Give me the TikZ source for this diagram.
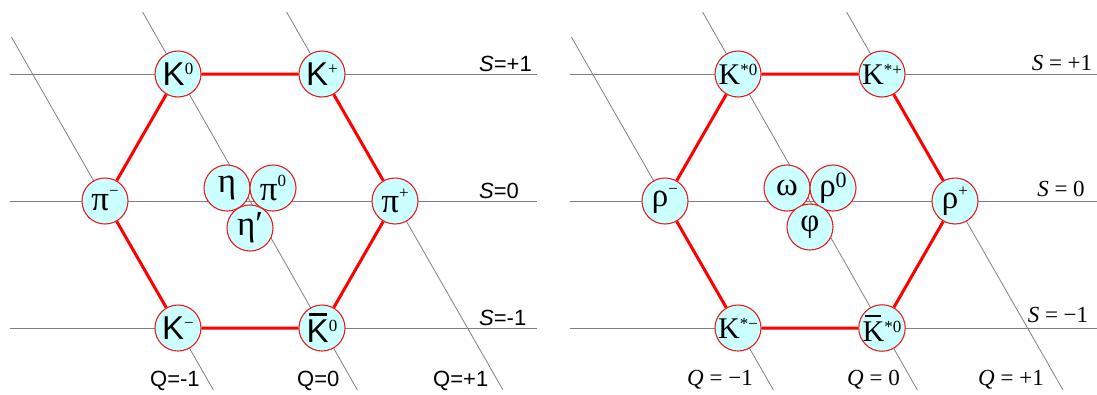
\documentclass[tikz,border=0pt]{standalone}
\usepackage{fontspec}
\newfontfamily\fsans{Liberation Sans}
\newfontfamily\fserif{Liberation Serif}
\definecolor{pcyan}{RGB}{204,255,255}
\definecolor{cred}{RGB}{232,30,30}
\definecolor{hred}{RGB}{255,0,0}
\definecolor{lgray}{RGB}{128,128,128}
\newcommand\lsup[2][0.34em]{\raisebox{#1}{\fontsize{17}{17}\selectfont\fserif #2}}
\newcommand\rsup[2][0.3em]{\raisebox{#1}{\fontsize{17}{17}\selectfont\fserif #2}}
\newcommand\barK[1][0.1em]{\leavevmode\rlap{\hspace{0.08em}\raisebox{0.8em}{\rule{0.52em}{#1}}}K}
\tikzset{
  meson/.style={circle, draw=cred, line width=1.1pt, fill=pcyan, minimum size=46pt, inner sep=0pt},
  lK/.style={meson, font=\fsans\fontsize{33}{33}\selectfont},
  lG/.style={meson, font=\fserif\fontsize{35}{35}\selectfont},
  rK/.style={meson, font=\fserif\fontsize{30}{30}\selectfont},
  rG/.style={meson, font=\fserif\fontsize{33}{33}\selectfont},
  grid/.style={draw=lgray, line width=0.8pt},
  hex/.style={draw=hred, line width=3pt},
  lbl/.style={inner sep=0pt, font=\fsans\fontsize{22}{24}\selectfont},
  rlbl/.style={inner sep=0pt, font=\fserif\fontsize{23}{25}\selectfont},
}
\begin{document}
\begin{tikzpicture}[x=1pt,y=-1pt]
\useasboundingbox (0,0) rectangle (1097,394);
% ---------- grids (both panels) ----------
\foreach \dx/\p in {0/l,560/r}{
  \begin{scope}[shift={(\dx,0)}]
    \draw[grid] (10,74) coordinate (\p a1) -- (537,74) coordinate (\p a2);
    \draw[grid] (10,201) coordinate (\p b1) -- (537,201) coordinate (\p b2);
    \draw[grid] (10,328) coordinate (\p c1) -- (537,328) coordinate (\p c2);
    \draw[grid] (11.4,37) coordinate (\p q1) -- (213.4,390) coordinate (\p q2);
    \draw[grid] (142.6,12) coordinate (\p r1) -- (357.4,390) coordinate (\p r2);
    \draw[grid] (286.6,12) coordinate (\p s1) -- (503,390) coordinate (\p s2);
  \end{scope}
}
% ---------- left panel ----------
\node[lK] (lK0) at (178,74) {K\lsup{0}};
\node[lK] (lKp) at (322,74) {K\lsup{+}};
\node[lG] (lpim) at (105,201) {π\lsup[0.4em]{−}};
\node[lG] (lpip) at (395,201) {π\lsup[0.4em]{+}};
\node[lK] (lKm) at (178,328) {K\lsup{−}};
\node[lK] (lKb) at (322,328) {\barK\lsup{0}};
\node[lG] (leta) at (227,188) {η};
\node[lG] (lpi0) at (273,188) {π\lsup[0.4em]{0}};
\node[lG] (letap) at (250,228) {η′};
\draw[hex] (lK0) -- (lKp) -- (lpip) -- (lKb) -- (lKm) -- (lpim) -- (lK0);
\node[lbl, anchor=base west] (lS1) at (479,71) {\textit{S}=+1};
\node[lbl, anchor=base west] (lS0) at (479,198) {\textit{S}=0};
\node[lbl, anchor=base west] (lSm) at (479,325) {\textit{S}=-1};
\node[lbl, anchor=base west] (lQm) at (150,386) {Q=-1};
\node[lbl, anchor=base west] (lQ0) at (297,386) {Q=0};
\node[lbl, anchor=base west] (lQp) at (433,386) {Q=+1};
% ---------- right panel ----------
\node[rK] (rK0) at (738,74) {K\rsup{*0}};
\node[rK] (rKp) at (882,74) {K\rsup{*+}};
\node[rG] (rrm) at (665,201) {ρ\rsup[0.36em]{−}};
\node[rG] (rrp) at (955,201) {ρ\rsup[0.36em]{+}};
\node[rK] (rKm) at (738,328) {K\rsup{*−}};
\node[rK] (rKb) at (882,328) {\barK[0.07em]\rsup{*0}};
\node[rG] (rom) at (787,188) {ω};
\node[rG] (rr0) at (833,188) {ρ\raisebox{0.28em}{\fontsize{22}{22}\selectfont 0}};
\node[rG] (rphi) at (810,227) {φ};
\draw[hex] (rK0) -- (rKp) -- (rrp) -- (rKb) -- (rKm) -- (rrm) -- (rK0);
\node[rlbl, anchor=base] (rS1) at (1062,70) {\textit{S} = +1};
\node[rlbl, anchor=base] (rS0) at (1061,196) {\textit{S} = 0};
\node[rlbl, anchor=base] (rSm) at (1058,322) {\textit{S} = −1};
\node[rlbl, anchor=base west] (rQm) at (687,385) {\textit{Q} = −1};
\node[rlbl, anchor=base west] (rQ0) at (847,385) {\textit{Q} = 0};
\node[rlbl, anchor=base west] (rQp) at (978,385) {\textit{Q} = +1};
\end{tikzpicture}
\end{document}
